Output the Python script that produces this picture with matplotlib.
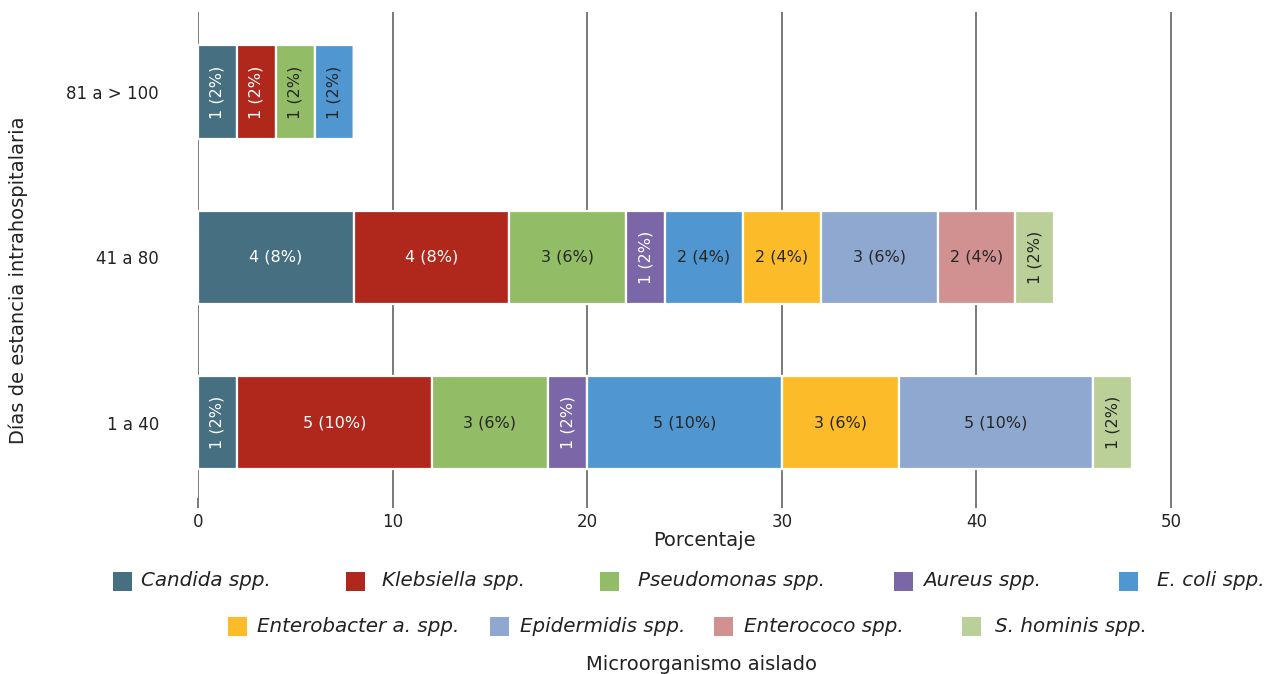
import matplotlib
matplotlib.use("Agg")
import matplotlib.pyplot as plt
from matplotlib.patches import Rectangle

plt.rcParams['font.family'] = ['DejaVu Sans']

categories = ["1 a 40", "41 a 80", "81 a > 100"]
species = ["Candida spp.", "Klebsiella spp.", "Pseudomonas spp.", "Aureus spp.",
           "E. coli spp.", "Enterobacter a. spp.", "Epidermidis spp.",
           "Enterococo spp.", "S. hominis spp."]
counts = {
    "Candida spp.":         [1, 4, 1],
    "Klebsiella spp.":      [5, 4, 1],
    "Pseudomonas spp.":     [3, 3, 1],
    "Aureus spp.":          [1, 1, 0],
    "E. coli spp.":         [5, 2, 1],
    "Enterobacter a. spp.": [3, 2, 0],
    "Epidermidis spp.":     [5, 3, 0],
    "Enterococo spp.":      [0, 2, 0],
    "S. hominis spp.":      [1, 1, 0],
}
percents = {
    "Candida spp.":         [2, 8, 2],
    "Klebsiella spp.":      [10, 8, 2],
    "Pseudomonas spp.":     [6, 6, 2],
    "Aureus spp.":          [2, 2, 0],
    "E. coli spp.":         [10, 4, 2],
    "Enterobacter a. spp.": [6, 4, 0],
    "Epidermidis spp.":     [10, 6, 0],
    "Enterococo spp.":      [0, 4, 0],
    "S. hominis spp.":      [2, 2, 0],
}
colors = ["#466f82", "#b0281c", "#92bd66", "#7b67a8", "#5097d2",
          "#fcbc2a", "#8fa8cf", "#d09190", "#bad098"]
white_text = {"Candida spp.", "Klebsiella spp.", "Aureus spp."}
xticks = [0, 10, 20, 30, 40, 50]

W, H = 1270, 674
fig = plt.figure(figsize=(W / 100, H / 100), dpi=100)
ax = fig.add_axes([198 / W, 1 - 498 / H, (1210 - 198) / W, (498 - 12) / H])

ypos = list(range(len(categories)))
left = [0.0] * len(categories)
for sp, col in zip(species, colors):
    vals = percents[sp]
    ax.barh(ypos, vals, left=left, height=0.565, color=col,
            edgecolor="white", linewidth=1.6, zorder=3)
    for i, (v, n) in enumerate(zip(vals, counts[sp])):
        if v <= 0:
            continue
        tc = "white" if sp in white_text else "#262626"
        rot = 90 if v <= 2 else 0
        ax.text(left[i] + v / 2, ypos[i], f"{n} ({v}%)", ha="center", va="center",
                rotation=rot, color=tc, fontsize=11.5, zorder=4)
    left = [l + v for l, v in zip(left, vals)]

ax.set_xlim(0, 52)
ax.set_ylim(-0.455, 2.485)
ax.set_xticks(xticks)
ax.set_xticklabels([str(t) for t in xticks], fontsize=12, color="#222222")
ax.set_yticks(ypos)
ax.set_yticklabels(categories, fontsize=12, color="#222222")
ax.tick_params(axis="y", length=0, pad=28)
ax.tick_params(axis="x", length=7, color="#707070", width=1.3, pad=4)
ax.grid(axis="x", color="#707070", linewidth=1.3, zorder=0)
for s in ax.spines.values():
    s.set_visible(False)
ax.set_xlabel("Porcentaje", fontsize=14, color="#222222", labelpad=0)
ax.set_ylabel("Días de estancia intrahospitalaria", fontsize=14, color="#222222")
ax.yaxis.set_label_coords((28 - 198) / (1210 - 198), (498 - 280) / (498 - 12))

# legend (manual layout, two rows)
row1_y, row2_y = 581, 626
leg_pos = [(113, 141, row1_y), (346, 382, row1_y), (600, 638, row1_y),
           (894, 923, row1_y), (1119, 1157, row1_y),
           (228, 257, row2_y), (490, 520, row2_y), (714, 744, row2_y),
           (962, 995, row2_y)]
for sp, col, (mx, tx, yy) in zip(species, colors, leg_pos):
    fig.patches.append(Rectangle((mx / W, 1 - (yy + 9.5) / H), 19 / W, 19 / H,
                                 transform=fig.transFigure, facecolor=col,
                                 edgecolor="none"))
    fig.text(tx / W, 1 - yy / H, sp, ha="left", va="center", fontsize=14.3,
             style="italic", color="#222222")

fig.text(702 / W, 1 - 664 / H, "Microorganismo aislado", ha="center", va="center",
         fontsize=14, color="#222222")

fig.savefig("out.png", dpi=100)
